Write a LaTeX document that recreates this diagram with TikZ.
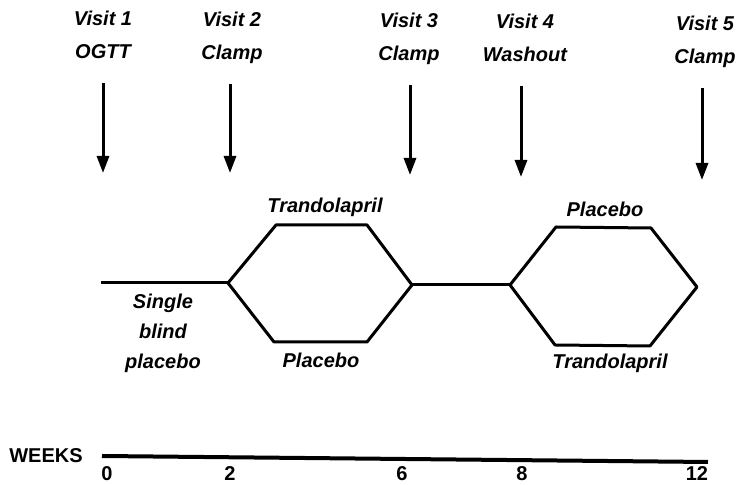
\documentclass[tikz,border=0pt]{standalone}
\usepackage{fontspec}
\setmainfont{Liberation Sans}
\usepackage{tikz}
\usetikzlibrary{arrows.meta,positioning}
\tikzstyle{visit} = [font=\bfseries\itshape, inner sep=0pt, text height=7.4pt,
    text depth=2pt, node distance=16.5pt]
\tikzstyle{arm} = [font=\bfseries\itshape, inner sep=0pt, anchor=base]
\tikzstyle{week} = [font=\bfseries, inner sep=0pt, anchor=base]
\tikzstyle{visitarrow} = [-{Triangle[length=8.5pt,width=6pt]}, line width=1.5pt,
    shorten <=10pt]
\tikzstyle{phase} = [line width=1.5pt, line join=round]

\begin{document}
\begin{tikzpicture}[x=0.5pt, y=-0.5pt]
  \useasboundingbox (0,0) rectangle (741,485);
  % visits and their arrows
  \node [visit, anchor=base] (v1) at (103,26) {Visit 1};
  \node [visit, below of=v1] (c1) {OGTT};
  \node [visit, anchor=base] (v2) at (232,27) {Visit 2};
  \node [visit, below of=v2] (c2) {Clamp};
  \node [visit, anchor=base] (v3) at (409,28) {Visit 3};
  \node [visit, below of=v3] (c3) {Clamp};
  \node [visit, anchor=base] (v4) at (525,29) {Visit 4};
  \node [visit, below of=v4] (c4) {Washout};
  \node [visit, anchor=base] (v5) at (705,31) {Visit 5};
  \node [visit, below of=v5] (c5) {Clamp};
  \coordinate (t1) at (103,173);
  \coordinate (t2) at (230,173);
  \coordinate (t3) at (410,175);
  \coordinate (t4) at (521,177);
  \coordinate (t5) at (702,180);
  \draw [visitarrow] (t1 |- c1.south) -- (t1);
  \draw [visitarrow] (t2 |- c2.south) -- (t2);
  \draw [visitarrow] (t3 |- c3.south) -- (t3);
  \draw [visitarrow] (t4 |- c4.south) -- (t4);
  \draw [visitarrow] (t5 |- c5.south) -- (t5);
  % treatment periods
  \coordinate (run) at (101,283);
  \coordinate (h1l) at (228,283);
  \coordinate (h1tl) at (276,225);
  \coordinate (h1tr) at (367,225);
  \coordinate (h1r) at (412,285);
  \coordinate (h1br) at (367,342);
  \coordinate (h1bl) at (274,342);
  \coordinate (h2l) at (510,285);
  \coordinate (h2tl) at (556,227);
  \coordinate (h2tr) at (651,228);
  \coordinate (h2r) at (697,287);
  \coordinate (h2br) at (650,346);
  \coordinate (h2bl) at (555,345);
  \draw [phase] (run) -- (h1l);
  \draw [phase] (h1l) -- (h1tl) -- (h1tr) -- (h1r) -- (h1br) -- (h1bl) -- cycle;
  \draw [phase] (h1r) -- (h2l);
  \draw [phase] (h2l) -- (h2tl) -- (h2tr) -- (h2r) -- (h2br) -- (h2bl) -- cycle;
  \node [arm] (a1t) at (325,213) {Trandolapril};
  \node [arm] (a1b) at (321,368) {Placebo};
  \node [arm] (a2t) at (605,217) {Placebo};
  \node [arm] (a2b) at (610,369) {Trandolapril};
  \node [arm, anchor=north, align=center,
    font=\bfseries\itshape\fontsize{10}{15}\selectfont] (sb) at (163,294)
  {Single\\blind\\placebo};
  % time axis
  \node [week] (wk) at (46,463) {WEEKS};
  \coordinate (w0) at (102,456);
  \coordinate (w12) at (708,462);
  \draw [line width=2pt] (w0) -- (w12);
  \node [week] (n0) at (107,481) {0};
  \node [week] (n2) at (230,481) {2};
  \node [week] (n6) at (402,481) {6};
  \node [week] (n8) at (522,481) {8};
  \node [week] (n12) at (697,481) {12};
\end{tikzpicture}
\end{document}
